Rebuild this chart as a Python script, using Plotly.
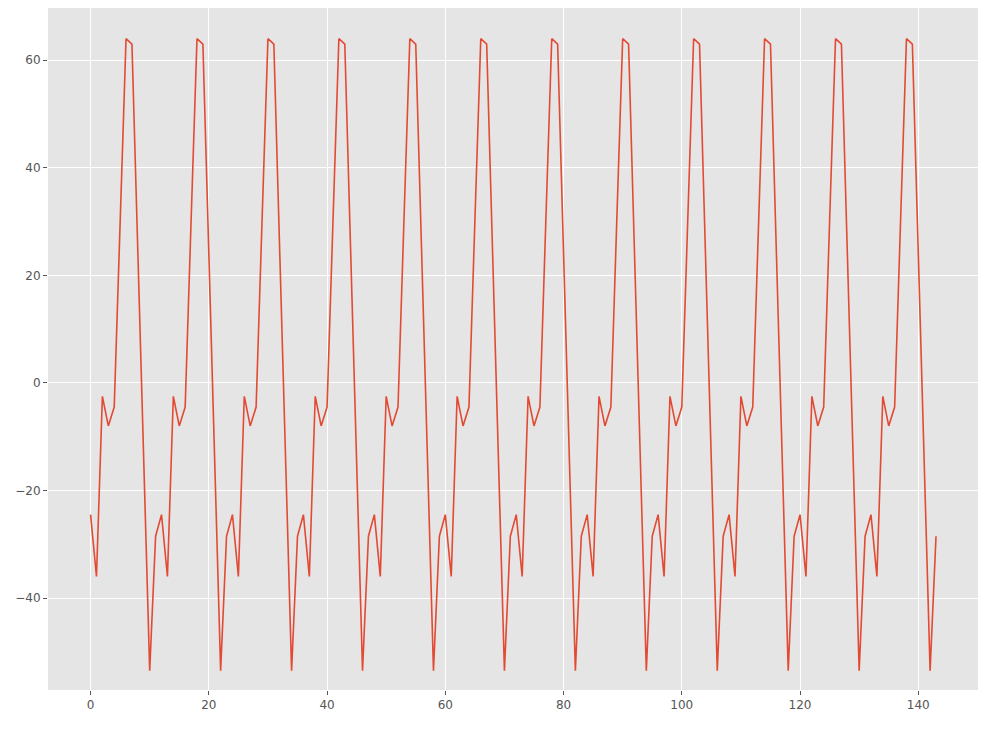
import plotly.graph_objects as go

# one value per step (pattern repeats every 12 steps)
values = [
    -24.5, -36.0, -2.5, -8.0, -4.5, 30.0, 64.0, 63.0, 25.0, -14.0, -53.5, -28.5,
    -24.5, -36.0, -2.5, -8.0, -4.5, 30.0, 64.0, 63.0, 25.0, -14.0, -53.5, -28.5,
    -24.5, -36.0, -2.5, -8.0, -4.5, 30.0, 64.0, 63.0, 25.0, -14.0, -53.5, -28.5,
    -24.5, -36.0, -2.5, -8.0, -4.5, 30.0, 64.0, 63.0, 25.0, -14.0, -53.5, -28.5,
    -24.5, -36.0, -2.5, -8.0, -4.5, 30.0, 64.0, 63.0, 25.0, -14.0, -53.5, -28.5,
    -24.5, -36.0, -2.5, -8.0, -4.5, 30.0, 64.0, 63.0, 25.0, -14.0, -53.5, -28.5,
    -24.5, -36.0, -2.5, -8.0, -4.5, 30.0, 64.0, 63.0, 25.0, -14.0, -53.5, -28.5,
    -24.5, -36.0, -2.5, -8.0, -4.5, 30.0, 64.0, 63.0, 25.0, -14.0, -53.5, -28.5,
    -24.5, -36.0, -2.5, -8.0, -4.5, 30.0, 64.0, 63.0, 25.0, -14.0, -53.5, -28.5,
    -24.5, -36.0, -2.5, -8.0, -4.5, 30.0, 64.0, 63.0, 25.0, -14.0, -53.5, -28.5,
    -24.5, -36.0, -2.5, -8.0, -4.5, 30.0, 64.0, 63.0, 25.0, -14.0, -53.5, -28.5,
    -24.5, -36.0, -2.5, -8.0, -4.5, 30.0, 64.0, 63.0, 25.0, -14.0, -53.5, -28.5,
]
steps = list(range(len(values)))

fig = go.Figure()
fig.add_trace(go.Scatter(x=steps, y=values, mode='lines',
                         line={'color': '#E24A33', 'width': 1.6}))

axis_style = dict(showgrid=True, gridcolor='white', gridwidth=1, zeroline=False,
                  ticks='outside', tickcolor='#555555', ticklen=4,
                  tickfont=dict(color='#555555', size=12), showline=False,
                  automargin=False)
fig.update_xaxes(range=[-7.2, 150.1], tickvals=[0, 20, 40, 60, 80, 100, 120, 140], **axis_style)
fig.update_yaxes(range=[-57.1, 69.7], tickvals=[-40, -20, 0, 20, 40, 60], **axis_style)

fig.update_layout(width=989, height=736, showlegend=False,
                  plot_bgcolor='#E5E5E5', paper_bgcolor='white',
                  font=dict(family='DejaVu Sans'),
                  margin=dict(l=40, r=19, t=0, b=54))
fig.write_html("out.html")
